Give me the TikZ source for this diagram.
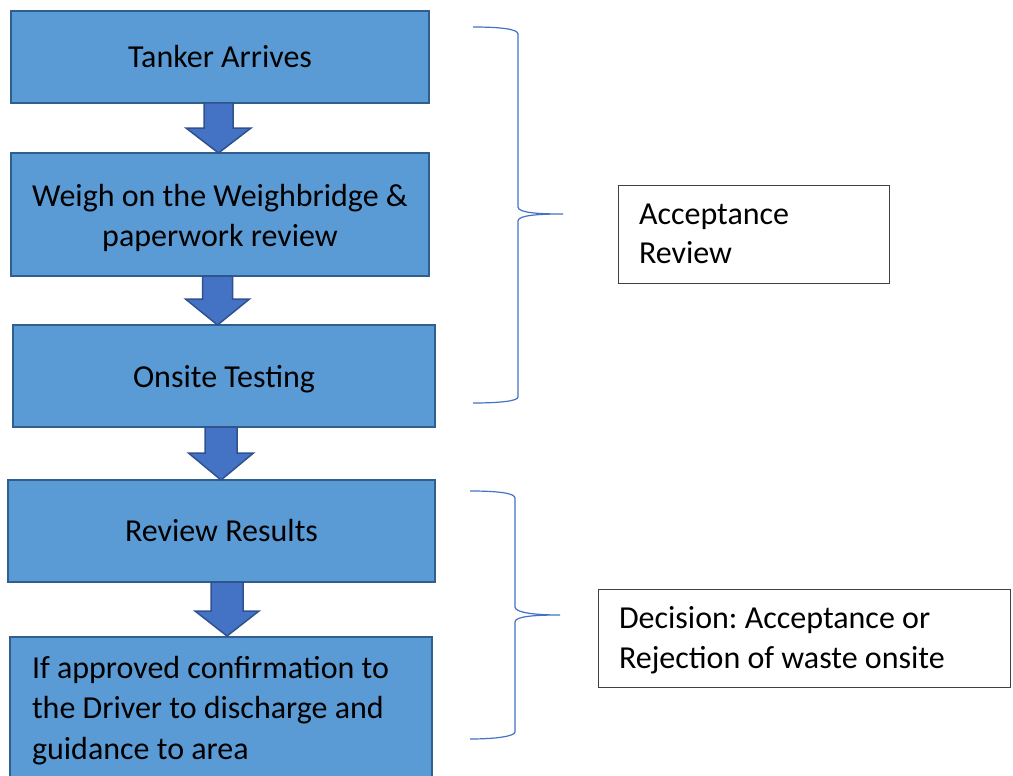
\documentclass[tikz,border=0pt]{standalone}
\usepackage{fontspec}
\setmainfont{Carlito}
\frenchspacing
\definecolor{boxfill}{HTML}{5B9BD5}
\definecolor{boxline}{HTML}{2F5F8F}
\definecolor{arrfill}{HTML}{4472C4}
\definecolor{arrline}{HTML}{2F528F}
\definecolor{bracecol}{HTML}{4472C4}
\definecolor{noteline}{HTML}{404040}
% lower a block of lines by #1 without changing its reported size
\newcommand{\lowerlines}[3]{\raisebox{-#1}[\height][\depth]{\begin{tabular}{@{}#2@{}}#3\end{tabular}}}
\begin{document}
\begin{tikzpicture}[x=1pt,y=-1pt,
  flowbox/.style={draw=boxline, fill=boxfill, line width=2pt, inner sep=0pt,
     align=flush center, font=\fontsize{32}{40.5}\selectfont},
  notebox/.style={draw=noteline, line width=1pt, inner sep=0pt, inner xsep=21pt,
     align=flush left, anchor=center, font=\fontsize{32}{39.5}\selectfont},
  bigarrow/.style={draw=arrline, fill=arrfill, line width=1.5pt, line join=miter},
  bracestyle/.style={draw=bracecol, line width=1.2pt}]
\useasboundingbox (0,0) rectangle (1013,776);
\clip (0,0) rectangle (1013,776);
\fill[white] (0,0) rectangle (1013,776);

\node[flowbox, minimum width=418pt, minimum height=92pt] (b1) at (220,57) {Tanker Arrives};
\node[flowbox, minimum width=418pt, minimum height=123pt] (b2) at (220,214.5) {\lowerlines{4pt}{c}{Weigh on the Weighbridge \&\\paperwork review}};
\node[flowbox, minimum width=422pt, minimum height=102pt] (b3) at (224,376) {\lowerlines{3pt}{c}{Onsite Testing}};
\node[flowbox, minimum width=427pt, minimum height=102pt] (b4) at (221.5,531) {\lowerlines{2pt}{c}{Review Results}};
\node[flowbox, minimum width=422pt, minimum height=144pt, text width=378pt, align=flush left] (b5) at (221,709) {\lowerlines{1.5pt}{l}{If approved confirmation to\\the Driver to discharge and\\guidance to area}};

% block arrows (x centre, shaft half width, head half width, top, head start, tip)
\newcommand{\flowarrow}[6]{%
  \draw[bigarrow] (#1-#2,#4) -- (#1+#2,#4) -- (#1+#2,#5) -- (#1+#3,#5) -- (#1,#6)
     -- (#1-#3,#5) -- (#1-#2,#5) -- cycle;}
\flowarrow{218.5}{14.5}{32.5}{103}{128}{153}
\flowarrow{217.5}{15}{32}{276}{299}{325}
\flowarrow{221}{16}{32.5}{427}{453}{480}
\flowarrow{227}{16}{32}{582}{611}{636}

% braces
\coordinate (t1) at (563,214);
\coordinate (t2) at (560,615);
\draw[bracestyle] (473,27) .. controls (500,27) and (518,29) .. (518,34) -- (518,207)
   .. controls (518,213) and (540,214) .. (t1)
   .. controls (540,214) and (518,215) .. (518,221) -- (518,397)
   .. controls (518,401) and (500,403) .. (473,403);
\draw[bracestyle] (470,491) .. controls (497,491) and (515,493) .. (515,498) -- (515,607)
   .. controls (515,613) and (537,615) .. (t2)
   .. controls (537,615) and (515,616) .. (515,622) -- (515,732)
   .. controls (515,736) and (497,739) .. (470,739);

\node[notebox, minimum width=271pt, minimum height=98pt, text width=229pt] (acc) at (753.5,234) {\lowerlines{2pt}{l}{Acceptance\\Review}};
\node[notebox, minimum width=412pt, minimum height=98pt, text width=370pt] (dec) at (804,638) {\lowerlines{2.5pt}{l}{Decision: Acceptance or\\Rejection of waste onsite}};
\end{tikzpicture}
\end{document}
